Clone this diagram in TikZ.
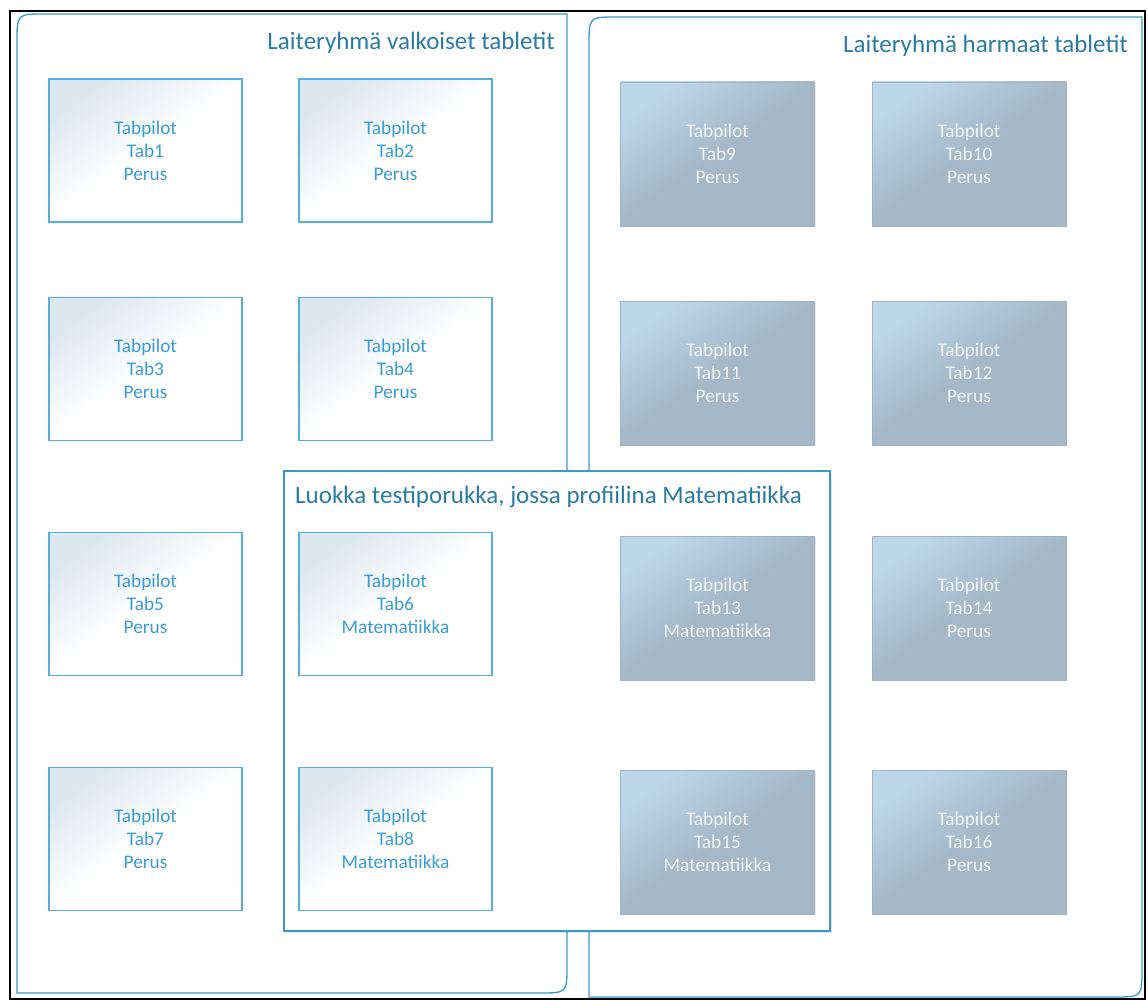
\documentclass[tikz,border=0pt]{standalone}
\usepackage{fontspec}
\setmainfont{Carlito}
\usetikzlibrary{shadows}
\definecolor{framecol}{HTML}{3A9AC6}
\definecolor{titlecol}{HTML}{2A7CA5}
\definecolor{wborder}{HTML}{55AEDC}
\definecolor{wtext}{HTML}{3A9DD4}
\definecolor{wshade}{HTML}{DCE7EF}
\definecolor{glight}{HTML}{BCD6EA}
\definecolor{gdark}{HTML}{A4B8C7}
\definecolor{gborder}{HTML}{9FB4C4}
\definecolor{gtext}{HTML}{F0F4F7}
\tikzset{
  container/.style={draw=framecol, line width=1.3pt, fill=white},
  titletext/.style={text=titlecol, font=\fontsize{25}{30}\selectfont, inner sep=0pt},
  whitebox/.style={draw=wborder, line width=1.3pt, minimum width=193pt, minimum height=143pt,
    top color=wshade, bottom color=white, middle color=white, shading angle=35,
    text=wtext, font=\fontsize{19.3}{23}\selectfont, align=center, inner sep=0pt},
  graybox/.style={draw=gborder, line width=0.6pt, minimum width=194pt, minimum height=144pt,
    top color=glight, bottom color=gdark, middle color=gdark, shading angle=35,
    text=gtext, font=\fontsize{19.3}{23}\selectfont, align=center, inner sep=0pt,
    drop shadow={shadow xshift=1pt, shadow yshift=-1pt, opacity=0.15}},
}
\begin{document}
\begin{tikzpicture}[x=1pt, y=-1pt]
\useasboundingbox (0,0) rectangle (1148,1000);
% outer frame
\draw[black, line width=1.4pt] (10,11) rectangle (1145,999);
% left container
\path[container] (17,993) -- (17,42) .. controls (17,14) .. (45,14) -- (567,14)
  -- (567,965) .. controls (567,993) .. (539,993) -- cycle;
% right container
\path[container] (589,997) -- (589,45) .. controls (589,17) .. (617,17) -- (1142,17)
  -- (1142,969) .. controls (1142,997) .. (1114,997) -- cycle;
% middle container
\path[container, drop shadow={shadow xshift=1.5pt, shadow yshift=-2pt, opacity=0.2}] (284,471) rectangle (830,931);
% titles
\node[titletext, anchor=base east] (tw) at (555,50) {Laiteryhmä valkoiset tabletit};
\node[titletext, anchor=base east] (tg) at (1128,53) {Laiteryhmä harmaat tabletit};
\node[titletext, anchor=base west] (tm) at (295,503) {Luokka testiporukka, jossa profiilina Matematiikka};
% white tablets
\node[whitebox] (t1) at (145.5,150.5) {Tabpilot\\Tab1\\Perus};
\node[whitebox] (t2) at (395.5,150.5) {Tabpilot\\Tab2\\Perus};
\node[whitebox] (t3) at (145.5,369) {Tabpilot\\Tab3\\Perus};
\node[whitebox] (t4) at (395.5,369) {Tabpilot\\Tab4\\Perus};
\node[whitebox] (t5) at (145.5,604) {Tabpilot\\Tab5\\Perus};
\node[whitebox] (t6) at (395.5,604) {Tabpilot\\Tab6\\Matematiikka};
\node[whitebox] (t7) at (145.5,839) {Tabpilot\\Tab7\\Perus};
\node[whitebox] (t8) at (395.5,839) {Tabpilot\\Tab8\\Matematiikka};
% gray tablets
\node[graybox] (t9) at (717.5,154) {Tabpilot\\Tab9\\Perus};
\node[graybox] (t10) at (969,154) {Tabpilot\\Tab10\\Perus};
\node[graybox] (t11) at (717.5,373) {Tabpilot\\Tab11\\Perus};
\node[graybox] (t12) at (969,373) {Tabpilot\\Tab12\\Perus};
\node[graybox] (t13) at (717.5,608) {Tabpilot\\Tab13\\Matematiikka};
\node[graybox] (t14) at (969,608) {Tabpilot\\Tab14\\Perus};
\node[graybox] (t15) at (717.5,842) {Tabpilot\\Tab15\\Matematiikka};
\node[graybox] (t16) at (969,842) {Tabpilot\\Tab16\\Perus};
\end{tikzpicture}
\end{document}
